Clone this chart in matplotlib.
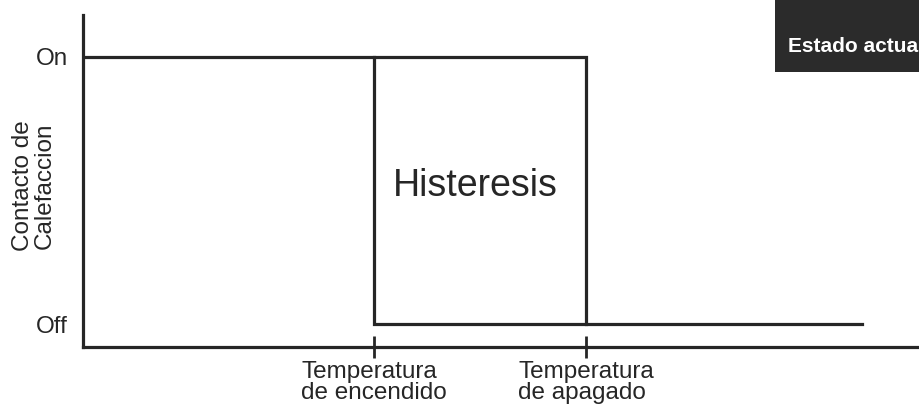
import matplotlib.pyplot as plt
from matplotlib.patches import Rectangle

plt.rcParams['font.family'] = ['Liberation Sans', 'DejaVu Sans']

# state levels of the heating contact
states = ['Off', 'On']
state_vals = [0, 1]

# temperatures (arbitrary units along the x axis)
t_on = 3.48      # switch-on temperature
t_off = 6.02     # switch-off temperature
t_end = 9.32     # end of drawn off line
tick_pos = [t_on, t_off]
tick_labels = ['Temperatura\nde encendido', 'Temperatura\nde apagado']

# two branches of the hysteresis loop
upper_x = [0, t_off, t_off]
upper_y = [1, 1, 0]
lower_x = [t_on, t_on, t_end]
lower_y = [1, 0, 0]

col = '#262626'

fig = plt.figure(figsize=(9.19, 4.05), dpi=100)
ax = fig.add_axes([83/919, (405-347)/405, 836/919, (347-15)/405])

ax.plot(upper_x, upper_y, color=col, lw=2.3, solid_joinstyle='miter')
ax.plot(lower_x, lower_y, color=col, lw=2.3, solid_joinstyle='miter')

ax.set_xlim(0, 10)
ax.set_ylim(-0.086, 1.157)

for s in ['top', 'right']:
    ax.spines[s].set_visible(False)
for s in ['left', 'bottom']:
    ax.spines[s].set_linewidth(2.3)
    ax.spines[s].set_color(col)

ax.set_yticks(state_vals)
ax.set_yticklabels(states, fontsize=17.5, color=col)
ax.tick_params(axis='y', length=0, pad=11)

ax.set_xticks(tick_pos)
ax.set_xticklabels(tick_labels, fontsize=17.5, color=col, linespacing=0.95,
                   multialignment='left')
ax.tick_params(axis='x', direction='inout', length=16, width=2, color=col, pad=2)

ax.text(4.69, 0.517, 'Histeresis', fontsize=27, color=col, ha='center', va='center')

fig.text(34/919, (405-186)/405, 'Contacto de\nCalefaccion', rotation=90,
         fontsize=17.5, color=col, ha='center', va='center', linespacing=0.95)

# dark overlay box in the top-right corner (its label is cut at the image edge)
fig.add_artist(Rectangle((775/919, (405-72)/405), 0.2, 0.2, transform=fig.transFigure,
                         facecolor='#2b2b2b', edgecolor='none'))
fig.text(788/919, (405-52)/405, 'Estado actua', fontsize=15, fontweight='bold',
         color='white', ha='left', va='baseline')

fig.savefig('out.png', dpi=100)
